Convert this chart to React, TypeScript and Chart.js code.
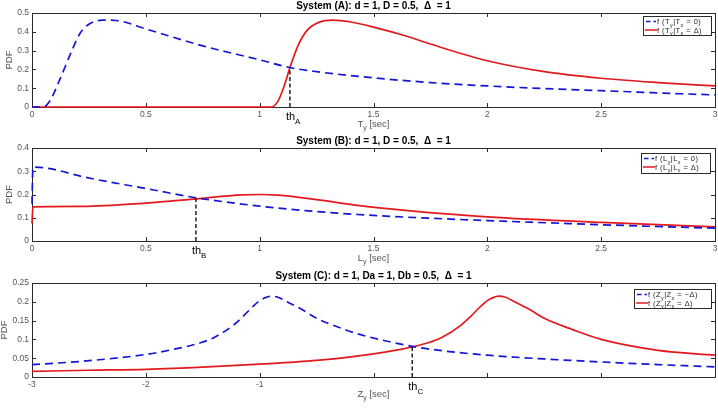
import React, { useEffect, useRef } from 'react';
import { Chart, registerables } from 'chart.js';
Chart.register(...registerables);

const FONT = "'Liberation Sans', Arial, Helvetica, sans-serif";
const BLUE = '#1515d6';
const RED = '#e3191e';
const GRAY = '#555555';
const AXIS = '#2b2b2b';

// ---------- System (A) ----------
const aBlueX = [0, 0.05, 0.08, 0.12, 0.17, 0.21, 0.25, 0.31, 0.37, 0.5, 0.75, 1.0, 1.133, 1.25, 1.5, 1.75, 2.0, 2.25, 2.5, 2.75, 3.0];
const aBlueY = [0, 0, 0.035, 0.14, 0.285, 0.39, 0.44, 0.462, 0.46, 0.415, 0.325, 0.251, 0.21, 0.188, 0.155, 0.13, 0.112, 0.098, 0.087, 0.075, 0.064];
const aRedX = [0, 1.0, 1.05, 1.08, 1.11, 1.133, 1.17, 1.21, 1.26, 1.32, 1.4, 1.5, 1.65, 1.75, 2.0, 2.25, 2.5, 2.75, 3.0];
const aRedY = [0, 0, 0, 0.03, 0.12, 0.21, 0.33, 0.41, 0.45, 0.462, 0.452, 0.425, 0.375, 0.335, 0.246, 0.188, 0.153, 0.13, 0.112];
const aXTicks = [0, 0.5, 1, 1.5, 2, 2.5, 3];
const aXTickLabels = ['0', '0.5', '1', '1.5', '2', '2.5', '3'];
const aYTicks = [0, 0.1, 0.2, 0.3, 0.4, 0.5];
const aYTickLabels = ['0', '0.1', '0.2', '0.3', '0.4', '0.5'];
const aThreshold = [1.133, 0.21];

// ---------- System (B) ----------
const bBlueX = [0, 0.004, 0.08, 0.225, 0.5, 0.72, 1.0, 1.2, 1.43, 1.7, 2.0, 2.5, 3.0];
const bBlueY = [0.16, 0.318, 0.311, 0.276, 0.226, 0.186, 0.15, 0.131, 0.114, 0.1, 0.088, 0.07, 0.055];
const bRedX = [0, 0.004, 0.225, 0.5, 0.72, 0.92, 1.0, 1.08, 1.25, 1.43, 1.65, 2.0, 2.5, 3.0];
const bRedY = [0.075, 0.147, 0.149, 0.163, 0.181, 0.198, 0.2, 0.197, 0.178, 0.153, 0.131, 0.104, 0.08, 0.061];
const bXTicks = [0, 0.5, 1, 1.5, 2, 2.5, 3];
const bXTickLabels = ['0', '0.5', '1', '1.5', '2', '2.5', '3'];
const bYTicks = [0, 0.1, 0.2, 0.3, 0.4];
const bYTickLabels = ['0', '0.1', '0.2', '0.3', '0.4'];
const bThreshold = [0.72, 0.183];

// ---------- System (C) ----------
const cBlueX = [-3, -2.55, -2.0, -1.75, -1.52, -1.4, -1.23, -1.15, -1.06, -1.0, -0.95, -0.9, -0.84, -0.76, -0.62, -0.5, -0.25, -0.13, 0.33, 0.6, 1.0, 1.5, 2.0, 2.5, 3.0];
const cBlueY = [0.033, 0.042, 0.06, 0.074, 0.091, 0.105, 0.138, 0.16, 0.1875, 0.203, 0.211, 0.215, 0.212, 0.2, 0.178, 0.156, 0.126, 0.114, 0.082, 0.07, 0.058, 0.048, 0.04, 0.033, 0.027];
const cRedX = [-3, -2.5, -2, -1.5, -1, -0.5, -0.13, 0.25, 0.48, 0.6, 0.77, 0.85, 0.94, 1.0, 1.05, 1.1, 1.16, 1.24, 1.38, 1.5, 1.75, 2.0, 2.5, 3.0];
const cRedY = [0.015, 0.018, 0.0205, 0.026, 0.034, 0.044, 0.056, 0.074, 0.091, 0.105, 0.138, 0.16, 0.1875, 0.203, 0.211, 0.215, 0.212, 0.2, 0.178, 0.156, 0.126, 0.1, 0.071, 0.058];
const cXTicks = [-3, -2, -1, 0, 1, 2, 3];
const cXTickLabels = ['-3', '-2', '-1', '', '', '', ''];
const cYTicks = [0, 0.05, 0.1, 0.15, 0.2, 0.25];
const cYTickLabels = ['0', '0.05', '0.1', '0.15', '0.2', '0.25'];
const cThreshold = [0.34, 0.082];

type Part = { t: string; sub?: boolean };

function drawRich(ctx: CanvasRenderingContext2D, parts: Part[], x: number, y: number, size: number, color: string, align: string, bold = false, spacing = 0) {
  ctx.save();
  const subSize = size * 0.72;
  (ctx as any).letterSpacing = spacing + 'px';
  const fontOf = (p: Part) => `${bold ? 'bold ' : ''}${p.sub ? subSize : size}px ${FONT}`;
  const widths = parts.map((p) => { ctx.font = fontOf(p); return ctx.measureText(p.t).width; });
  const total = widths.reduce((a, b) => a + b, 0);
  let cx = align === 'center' ? x - total / 2 : align === 'right' ? x - total : x;
  ctx.fillStyle = color;
  ctx.textBaseline = 'alphabetic';
  ctx.textAlign = 'left';
  parts.forEach((p, i) => {
    ctx.font = fontOf(p);
    ctx.fillText(p.t, cx, p.sub ? y + size * 0.32 : y);
    cx += widths[i];
  });
  ctx.restore();
}

interface PanelSpec {
  top: number; height: number; xAxisH: number;
  blueX: number[]; blueY: number[]; redX: number[]; redY: number[];
  xTicks: number[]; xTickLabels: string[]; yTicks: number[]; yTickLabels: string[];
  title: string; xVar: string; th: number[]; thSub: string;
  legend: Part[][]; legendBox: number[]; pdfX: number;
}

const panels: PanelSpec[] = [
  {
    top: 0, height: 135, xAxisH: 28,
    blueX: aBlueX, blueY: aBlueY, redX: aRedX, redY: aRedY,
    xTicks: aXTicks, xTickLabels: aXTickLabels, yTicks: aYTicks, yTickLabels: aYTickLabels,
    title: 'System (A): d = 1, D = 0.5,  \u0394  = 1', xVar: 'T', th: aThreshold, thSub: 'A',
    legend: [
      [{ t: 'f (T' }, { t: 'y', sub: true }, { t: '|T' }, { t: 'x', sub: true }, { t: ' = 0)' }],
      [{ t: 'f (T' }, { t: 'y', sub: true }, { t: '|T' }, { t: 'x', sub: true }, { t: ' = \u0394)' }],
    ],
    legendBox: [643, 16, 68, 19], pdfX: 9,
  },
  {
    top: 135, height: 135, xAxisH: 29,
    blueX: bBlueX, blueY: bBlueY, redX: bRedX, redY: bRedY,
    xTicks: bXTicks, xTickLabels: bXTickLabels, yTicks: bYTicks, yTickLabels: bYTickLabels,
    title: 'System (B): d = 1, D = 0.5,  \u0394  = 1', xVar: 'L', th: bThreshold, thSub: 'B',
    legend: [
      [{ t: 'f (L' }, { t: 'y', sub: true }, { t: '|L' }, { t: 'x', sub: true }, { t: ' = 0)' }],
      [{ t: 'f (L' }, { t: 'y', sub: true }, { t: '|L' }, { t: 'x', sub: true }, { t: ' = \u0394)' }],
    ],
    legendBox: [641, 18, 69, 20], pdfX: 9,
  },
  {
    top: 270, height: 146, xAxisH: 39,
    blueX: cBlueX, blueY: cBlueY, redX: cRedX, redY: cRedY,
    xTicks: cXTicks, xTickLabels: cXTickLabels, yTicks: cYTicks, yTickLabels: cYTickLabels,
    title: 'System (C): d = 1, Da = 1, Db = 0.5,  \u0394  = 1', xVar: 'Z', th: cThreshold, thSub: 'C',
    legend: [
      [{ t: 'f (Z' }, { t: 'y', sub: true }, { t: '|Z' }, { t: 'x', sub: true }, { t: ' = \u2212\u0394)' }],
      [{ t: 'f (Z' }, { t: 'y', sub: true }, { t: '|Z' }, { t: 'x', sub: true }, { t: ' = \u0394)' }],
    ],
    legendBox: [634, 19, 77, 19], pdfX: 4,
  },
];

function makeChart(canvas: HTMLCanvasElement, p: PanelSpec) {
  const pts = (xs: number[], ys: number[]) => xs.map((x, i) => ({ x, y: ys[i] }));
  const decor = {
    id: 'decor',
    beforeDatasetsDraw(chart: any) {
      const ctx: CanvasRenderingContext2D = chart.ctx;
      const a = chart.chartArea;
      const xs = chart.scales.x;
      const ys = chart.scales.y;
      ctx.save();
      ctx.strokeStyle = AXIS;
      ctx.lineWidth = 1;
      ctx.strokeRect(Math.round(a.left) + 0.5, Math.round(a.top) + 0.5, Math.round(a.right - a.left), Math.round(a.bottom - a.top));
      ctx.beginPath();
      p.xTicks.forEach((v) => {
        const px = Math.round(xs.getPixelForValue(v)) + 0.5;
        ctx.moveTo(px, a.bottom); ctx.lineTo(px, a.bottom - 4);
        ctx.moveTo(px, a.top); ctx.lineTo(px, a.top + 4);
      });
      p.yTicks.forEach((v) => {
        const py = Math.round(ys.getPixelForValue(v)) + 0.5;
        ctx.moveTo(a.left, py); ctx.lineTo(a.left + 4, py);
        ctx.moveTo(a.right, py); ctx.lineTo(a.right - 4, py);
      });
      ctx.stroke();
      ctx.restore();
    },
    afterDraw(chart: any) {
      const ctx: CanvasRenderingContext2D = chart.ctx;
      const a = chart.chartArea;
      const xs = chart.scales.x;
      const ys = chart.scales.y;
      const cx = (a.left + a.right) / 2;
      // threshold line
      const tx = xs.getPixelForValue(p.th[0]);
      const ty = ys.getPixelForValue(p.th[1]);
      ctx.save();
      ctx.strokeStyle = '#000';
      ctx.lineWidth = 1.3;
      ctx.setLineDash([4, 2.5]);
      ctx.beginPath();
      ctx.moveTo(tx, a.bottom);
      ctx.lineTo(tx, ty);
      ctx.stroke();
      ctx.restore();
      drawRich(ctx, [{ t: 'th' }, { t: p.thSub, sub: true }], tx - 4, a.bottom + 13, 11, '#000', 'left');
      // title
      ctx.save();
      ctx.font = `bold 10px ${FONT}`;
      ctx.fillStyle = '#000';
      ctx.textAlign = 'center';
      ctx.textBaseline = 'middle';
      ctx.fillText(p.title, cx, 6);
      ctx.restore();
      // x axis title
      drawRich(ctx, [{ t: p.xVar }, { t: 'y', sub: true }, { t: ' [sec]' }], cx, a.bottom + 20, 9.5, GRAY, 'center');
      // y axis title
      ctx.save();
      ctx.translate(p.pdfX, (a.top + a.bottom) / 2);
      ctx.rotate(-Math.PI / 2);
      ctx.font = `9.5px ${FONT}`;
      ctx.fillStyle = GRAY;
      ctx.textAlign = 'center';
      ctx.textBaseline = 'middle';
      ctx.fillText('PDF', 0, 0);
      ctx.restore();
      // legend
      const [lx, ly, lw, lh] = p.legendBox;
      ctx.save();
      ctx.fillStyle = '#fff';
      ctx.fillRect(lx, ly, lw, lh);
      ctx.strokeStyle = AXIS;
      ctx.lineWidth = 1;
      ctx.strokeRect(lx + 0.5, ly + 0.5, lw, lh);
      const rowY = [ly + 5.5, ly + 14];
      ctx.lineWidth = 1.5;
      ctx.strokeStyle = BLUE;
      ctx.setLineDash([4.5, 3]);
      ctx.beginPath(); ctx.moveTo(lx + 3, rowY[0]); ctx.lineTo(lx + 13, rowY[0]); ctx.stroke();
      ctx.setLineDash([]);
      ctx.strokeStyle = RED;
      ctx.beginPath(); ctx.moveTo(lx + 2, rowY[1]); ctx.lineTo(lx + 14, rowY[1]); ctx.stroke();
      ctx.restore();
      p.legend.forEach((parts, i) => drawRich(ctx, parts, lx + 14, rowY[i] + 2.7, 7.5, '#222', 'left', false, 0.45));
    },
  };
  const tickFont = { family: FONT, size: 8.5 };
  return new Chart(canvas, {
    type: 'line',
    data: {
      datasets: [
        { data: pts(p.blueX, p.blueY), borderColor: BLUE, borderWidth: 1.7, borderDash: [8, 5], pointRadius: 0, cubicInterpolationMode: 'monotone', clip: false },
        { data: pts(p.redX, p.redY), borderColor: RED, borderWidth: 1.7, pointRadius: 0, cubicInterpolationMode: 'monotone', clip: false },
      ],
    },
    options: {
      animation: false,
      responsive: false,
      events: [],
      layout: { padding: { left: 0, right: 3, top: 13, bottom: 0 } },
      plugins: { legend: { display: false }, title: { display: false }, tooltip: { enabled: false } },
      scales: {
        x: {
          type: 'linear',
          min: p.xTicks[0],
          max: p.xTicks[p.xTicks.length - 1],
          afterBuildTicks: (s: any) => { s.ticks = p.xTicks.map((v) => ({ value: v })); },
          afterFit: (s: any) => { s.height = p.xAxisH; s.paddingRight = 0; s.paddingLeft = 0; },
          ticks: { font: tickFont, color: GRAY, padding: 3, maxRotation: 0, minRotation: 0, autoSkip: false, callback: (_v: any, i: number) => p.xTickLabels[i] },
          grid: { display: false, drawTicks: false },
          border: { display: false },
        },
        y: {
          type: 'linear',
          min: p.yTicks[0],
          max: p.yTicks[p.yTicks.length - 1],
          afterBuildTicks: (s: any) => { s.ticks = p.yTicks.map((v) => ({ value: v })); },
          afterFit: (s: any) => { s.width = 32; s.paddingTop = 0; s.paddingBottom = 0; },
          ticks: { font: tickFont, color: GRAY, padding: 3, autoSkip: false, callback: (_v: any, i: number) => p.yTickLabels[i] },
          grid: { display: false, drawTicks: false },
          border: { display: false },
        },
      },
    } as any,
    plugins: [decor],
  });
}

function Panel({ spec }: { spec: PanelSpec }) {
  const ref = useRef<HTMLCanvasElement>(null);
  useEffect(() => {
    if (!ref.current) return;
    const c = makeChart(ref.current, spec);
    return () => c.destroy();
  }, [spec]);
  return (
    <canvas
      ref={ref}
      width={718}
      height={spec.height}
      style={{ position: 'absolute', left: 0, top: spec.top, width: 718, height: spec.height }}
    />
  );
}

export default function App() {
  return (
    <div style={{ position: 'fixed', left: 0, top: 0, width: 718, height: 416, background: '#fff', overflow: 'hidden' }}>
      {panels.map((p, i) => (
        <Panel key={i} spec={p} />
      ))}
    </div>
  );
}
